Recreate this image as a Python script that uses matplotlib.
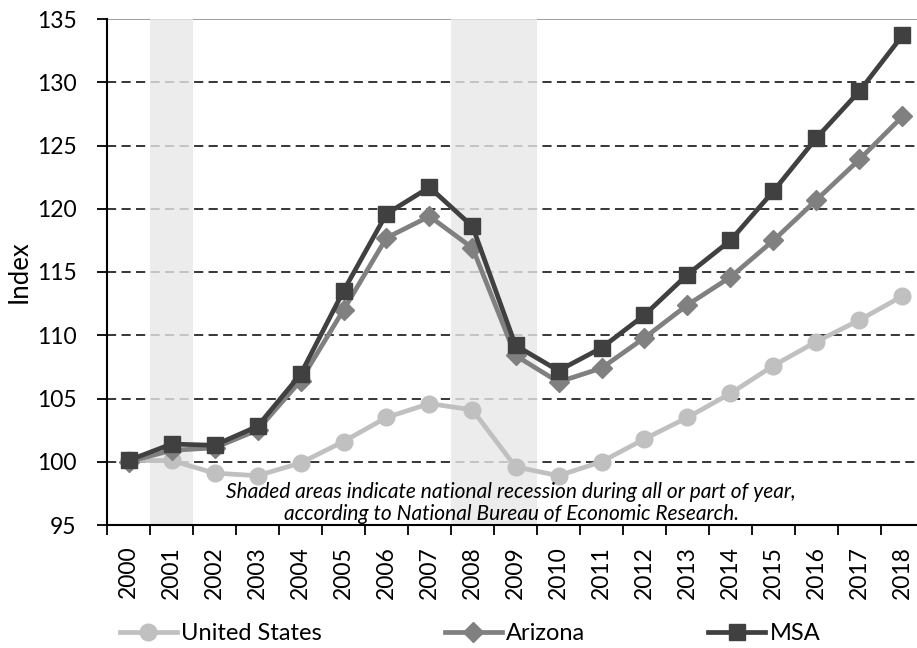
import numpy as np
import matplotlib
matplotlib.use("Agg")
import matplotlib.pyplot as plt

# Index values (2000 = 100)
years = [str(y) for y in range(2000, 2019)]
us = [100.1, 100.1, 99.1, 98.9, 99.9, 101.6, 103.5, 104.6, 104.1, 99.6,
      98.9, 100.0, 101.8, 103.5, 105.4, 107.6, 109.5, 111.2, 113.1]
arizona = [100.0, 100.9, 101.1, 102.5, 106.4, 112.0, 117.7, 119.4, 116.9, 108.4,
           106.3, 107.4, 109.8, 112.4, 114.6, 117.5, 120.7, 123.9, 127.3]
msa = [100.1, 101.4, 101.3, 102.8, 106.9, 113.5, 119.6, 121.7, 118.6, 109.2,
       107.2, 109.0, 111.6, 114.8, 117.5, 121.4, 125.6, 129.3, 133.7]
recessions = [(1, 2), (8, 10)]  # category index ranges (2001, 2008-2009)
yticks = [95, 100, 105, 110, 115, 120, 125, 130, 135]

plt.rcParams['font.family'] = ['Lato', 'DejaVu Sans']

W, H = 917, 648
fig = plt.figure(figsize=(W / 100, H / 100), dpi=100)
ax = fig.add_axes([107 / W, 1 - 525 / H, (924 - 107) / W, (525 - 19) / H])

x = np.arange(len(years)) + 0.5

# dashed gridlines
for v in yticks[1:-1]:
    ax.axhline(v, color='black', lw=1.1, linestyle=(0, (6, 3.5)), zorder=1)
ax.axhline(135, color='#8c8c8c', lw=1.2, zorder=1)

# recession shading (drawn over gridlines)
for a, b in recessions:
    ax.axvspan(a, b, color='#e8e8e8', alpha=0.8, lw=0, zorder=2)

ax.plot(x, us, color='#c0c0c0', lw=3.4, marker='o', ms=12, zorder=3, label='United States')
ax.plot(x, arizona, color='#808080', lw=3.4, marker='D', ms=10, zorder=4, label='Arizona')
ax.plot(x, msa, color='#404040', lw=3.4, marker='s', ms=11, zorder=5, label='MSA')

ax.set_xlim(0, len(years))
ax.set_ylim(95, 135)
ax.set_yticks(yticks)
ax.set_yticklabels([str(v) for v in yticks])
ax.tick_params(axis='y', direction='out', length=7, width=1.3, pad=15, labelsize=16.5)

ax.set_xticks(np.arange(len(years) + 1))
ax.set_xticklabels([])
ax.tick_params(axis='x', which='major', direction='out', length=7, width=1.3)
ax.set_xticks(x, minor=True)
ax.set_xticklabels(years, minor=True, rotation=90)
ax.tick_params(axis='x', which='minor', length=0, pad=15, labelsize=16.5)

for s in ['top', 'right']:
    ax.spines[s].set_visible(False)
for s in ['left', 'bottom']:
    ax.spines[s].set_linewidth(1.5)
    ax.spines[s].set_zorder(6)

ax.set_ylabel('Index', fontsize=18.5)
ax.yaxis.set_label_coords(-0.092, 0.5)

ax.text(511 / W, 1 - 503 / H,
        'Shaded areas indicate national recession during all or part of year,\n'
        'according to National Bureau of Economic Research.',
        transform=fig.transFigure, ha='center', va='center', style='italic',
        fontsize=15, linespacing=1.1, zorder=7)

handles, labels = ax.get_legend_handles_labels()
fig.legend(handles, labels, loc='center left', bbox_to_anchor=(120 / W, 1 - 634 / H),
           ncol=3, frameon=False, fontsize=17, handlelength=2.4, handletextpad=0.2,
           columnspacing=5.2, borderaxespad=0, borderpad=0)

fig.savefig('out.png', dpi=100)
